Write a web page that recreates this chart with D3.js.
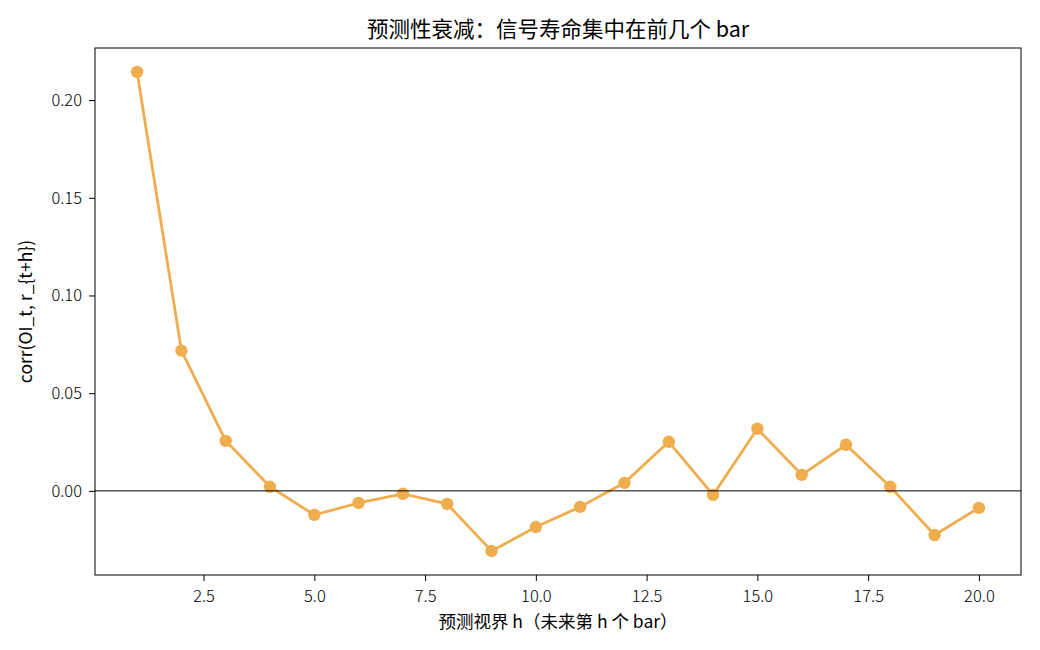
<!DOCTYPE html>
<html>
<head>
<meta charset="utf-8">
<script src="https://cdn.jsdelivr.net/npm/d3@7"></script>
<style>
  body { margin: 0; background: #fff; }
  svg text { font-family: "Noto Sans CJK SC", "Noto Sans", sans-serif; fill: #000; }
</style>
</head>
<body>
<svg id="chart" width="1040" height="650"></svg>
<script>
// horizon h and correlation values
const horizons = [1, 2, 3, 4, 5, 6, 7, 8, 9, 10, 11, 12, 13, 14, 15, 16, 17, 18, 19, 20];
const corrValues = [0.2144, 0.0718, 0.0256, 0.0021, -0.0123, -0.0062, -0.0015, -0.0067, -0.0308, -0.0185,
                    -0.0082, 0.0041, 0.0251, -0.0021, 0.0318, 0.0082, 0.0236, 0.0021, -0.0226, -0.0087];
const xTicks = [2.5, 5.0, 7.5, 10.0, 12.5, 15.0, 17.5, 20.0];
const yTicks = [0.00, 0.05, 0.10, 0.15, 0.20];

const titleText = "预测性衰减：信号寿命集中在前几个 bar";
const xLabel = "预测视界 h（未来第 h 个 bar）";
const yLabel = "corr(OI_t, r_{t+h})";

var margin = {top: 48, right: 19, bottom: 75, left: 95},
    width = 1040 - margin.left - margin.right,
    height = 650 - margin.top - margin.bottom;

var data = horizons.map(function(h, i) { return {h: h, v: corrValues[i]}; });

var svg = d3.select("#chart")
  .append("g")
  .attr("transform", "translate(" + margin.left + "," + margin.top + ")");

// matplotlib style 5% margins
var xPad = (d3.max(horizons) - d3.min(horizons)) * 0.05;
var yPad = (d3.max(corrValues) - d3.min(corrValues)) * 0.05;

var x = d3.scaleLinear()
  .domain([d3.min(horizons) - xPad, d3.max(horizons) + xPad])
  .range([0, width]);
var y = d3.scaleLinear()
  .domain([d3.min(corrValues) - yPad, d3.max(corrValues) + yPad])
  .range([height, 0]);

var xAxis = svg.append("g")
  .attr("transform", "translate(0," + height + ")")
  .call(d3.axisBottom(x).tickValues(xTicks).tickFormat(d3.format(".1f")).tickSize(6).tickPadding(9));
var yAxis = svg.append("g")
  .call(d3.axisLeft(y).tickValues(yTicks).tickFormat(d3.format(".2f")).tickSize(6).tickPadding(7));

[xAxis, yAxis].forEach(function(a) {
  a.select(".domain").remove();
  a.selectAll("line").attr("stroke", "#000").attr("stroke-width", 1);
  a.selectAll("text").style("font-size", "16.5px").style("font-weight", 300);
});

// line + markers
var color = "#F0AD4E";
svg.append("path")
  .datum(data)
  .attr("fill", "none")
  .attr("stroke", color)
  .attr("stroke-width", 2.8)
  .attr("stroke-linejoin", "round")
  .attr("d", d3.line().x(function(d) { return x(d.h); }).y(function(d) { return y(d.v); }));

svg.append("g")
  .selectAll("circle")
  .data(data)
  .enter()
  .append("circle")
  .attr("cx", function(d) { return x(d.h); })
  .attr("cy", function(d) { return y(d.v); })
  .attr("r", 6.2)
  .attr("fill", color);

// zero line
svg.append("line")
  .attr("x1", 0).attr("x2", width)
  .attr("y1", y(0)).attr("y2", y(0))
  .attr("stroke", "#000").attr("stroke-width", 1);

// frame
svg.append("rect")
  .attr("width", width).attr("height", height)
  .attr("fill", "none").attr("stroke", "#000").attr("stroke-width", 1);

svg.append("text")
  .attr("x", width / 2).attr("y", -11)
  .attr("text-anchor", "middle")
  .style("font-size", "21.5px")
  .text(titleText);

svg.append("text")
  .attr("x", width / 2).attr("y", height + 53)
  .attr("text-anchor", "middle")
  .style("font-size", "17.5px")
  .text(xLabel);

svg.append("text")
  .attr("transform", "translate(" + (-63) + "," + (height / 2) + ")rotate(-90)")
  .attr("text-anchor", "middle")
  .style("font-size", "17.5px")
  .text(yLabel);
</script>
</body>
</html>
